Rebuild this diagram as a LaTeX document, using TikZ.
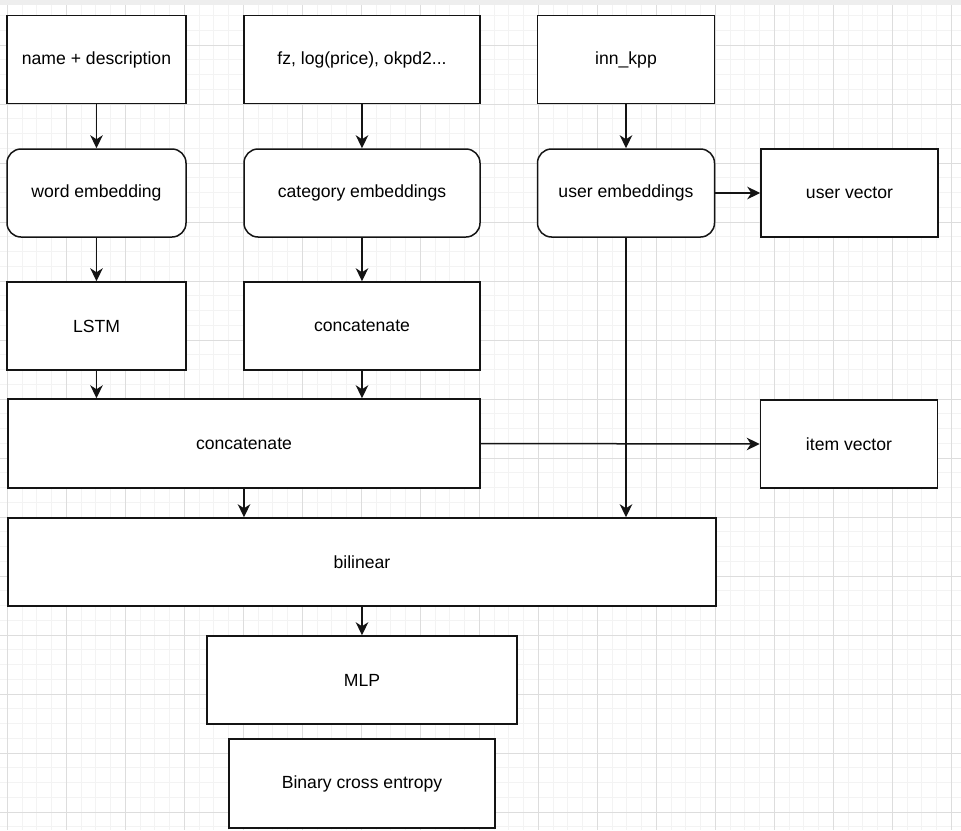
\documentclass[tikz,border=0pt]{standalone}
\usepackage{fontspec}
\setmainfont{Liberation Sans}
\usepackage{xcolor}
\usepackage{tikz}
\usetikzlibrary{positioning,arrows.meta,calc}
\definecolor{gridminor}{RGB}{243, 243, 243}
\definecolor{gridmajor}{RGB}{221, 221, 221}
\definecolor{topband}{RGB}{238, 238, 238}
\definecolor{linecolor}{RGB}{20, 20, 20}
\tikzset{
    layer box/.style={rectangle, draw=linecolor, line width=1.5pt, fill=white, minimum width=177pt, minimum height=88pt, inner sep=0pt, font=\fontsize{17.6}{21}\selectfont},
    wide box/.style={layer box, minimum width=236pt},
    embed box/.style={layer box, rounded corners=14pt},
    flow arrow/.style={-{Stealth[length=13pt, width=12.5pt, inset=4pt]}, line width=1.5pt, draw=linecolor},
    minor grid/.style={gridminor, line width=1pt},
    major grid/.style={gridmajor, line width=1pt}
}

\begin{document}
\begin{tikzpicture}[x=1pt, y=-1pt]
\useasboundingbox (0,0) rectangle (961,830);
\fill[white] (0,0) rectangle (961,830);
% background grid
\foreach \k in {0,...,64} {
  \draw[minor grid] ({7.3+14.75*\k},5) -- ({7.3+14.75*\k},830);
}
\foreach \k in {-2,...,53} {
  \draw[minor grid] (0,{45+14.75*\k}) -- (961,{45+14.75*\k});
}
\foreach \k in {0,...,16} {
  \draw[major grid] ({7.3+59*\k},5) -- ({7.3+59*\k},830);
}
\foreach \k in {0,...,13} {
  \draw[major grid] (0,{45+59*\k}) -- (961,{45+59*\k});
}
\fill[topband] (0,0) rectangle (961,5);

% inputs
\node[layer box, minimum width=179pt] (desc) at (96.5,59.5) {name + description};
\node[wide box] (feats) at (362,59.5) {fz, log(price), okpd2...};
\node[layer box] (inn) at (626,59.5) {inn\_kpp};

% embeddings
\node[embed box, minimum width=179pt] (wordemb) at (96.5,193) {word embedding};
\node[embed box, minimum width=236pt] (catemb) at (362,193) {category embeddings};
\node[embed box] (useremb) at (626,193) {user embeddings};
\node[layer box] (uservec) at (849.5,193) {user vector};

% encoders
\node[layer box, minimum width=179pt] (lstm) at (96.5,326) {LSTM};
\node[wide box] (catconcat) at (362,326) {concatenate};

% item part
\node[layer box, minimum width=472pt, minimum height=89pt] (concat) at (244,443.5) {concatenate};
\node[layer box] (itemvec) at (849,444) {item vector};

% head
\node[layer box, minimum width=708pt] (bilinear) at (362,562) {bilinear};
\node[layer box, minimum width=310pt] (mlp) at (362,680) {MLP};
\node[layer box, minimum width=266pt, minimum height=89pt] (bce) at (362,783.5) {Binary cross entropy};

% connectors
\draw[flow arrow] (desc) -- (wordemb);
\draw[flow arrow] (feats) -- (catemb);
\draw[flow arrow] (inn) -- (useremb);
\draw[flow arrow] (useremb) -- (uservec);
\draw[flow arrow] (wordemb) -- (lstm);
\draw[flow arrow] (catemb) -- (catconcat);
\draw[flow arrow] (lstm.south) -- (lstm.south |- concat.north);
\draw[flow arrow] (catconcat.south) -- (catconcat.south |- concat.north);
\draw[flow arrow] (concat.east) -- (itemvec.west);
\draw[flow arrow] (useremb.south) -- (useremb.south |- bilinear.north);
\draw[flow arrow] (concat.south) -- (concat.south |- bilinear.north);
\draw[flow arrow] (bilinear) -- (mlp);
\end{tikzpicture}
\end{document}
